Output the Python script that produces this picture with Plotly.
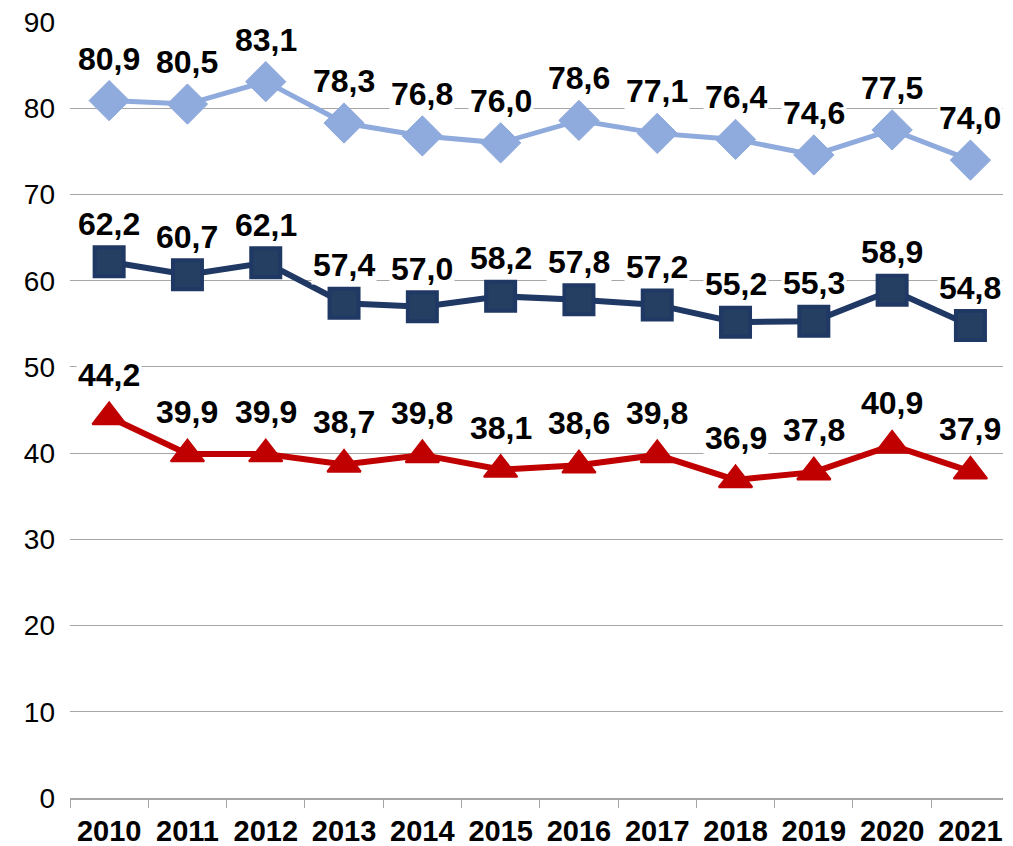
import plotly.graph_objects as go

years = ["2010", "2011", "2012", "2013", "2014", "2015", "2016", "2017", "2018", "2019", "2020", "2021"]
series_top = [80.9, 80.5, 83.1, 78.3, 76.8, 76.0, 78.6, 77.1, 76.4, 74.6, 77.5, 74.0]
series_mid = [62.2, 60.7, 62.1, 57.4, 57.0, 58.2, 57.8, 57.2, 55.2, 55.3, 58.9, 54.8]
series_low = [44.2, 39.9, 39.9, 38.7, 39.8, 38.1, 38.6, 39.8, 36.9, 37.8, 40.9, 37.9]
y_ticks = [0, 10, 20, 30, 40, 50, 60, 70, 80, 90]

FONT = "Liberation Sans, Arial, sans-serif"

fig = go.Figure()

specs = [
    (series_low, "#C00000", "triangle-up", 29, "#C00000", 2, 6, 42),
    (series_mid, "#203864", "square", 29, "#1F3864", 4, 6, 38),
    (series_top, "#8FAADC", "diamond", 31, "#8FAADC", 1, 5, 42),
]

for vals, color, symbol, msize, mline, mlw, lw, shift in specs:
    fill = "#253F62" if symbol == "square" else color
    fig.add_trace(go.Scatter(
        x=years, y=vals, mode="lines+markers",
        line=dict(color=color, width=lw),
        marker=dict(symbol=symbol, size=msize, color=fill,
                    line=dict(color=mline, width=mlw)),
        showlegend=False, hoverinfo="skip",
    ))
    for i, yv in enumerate(vals):
        fig.add_annotation(
            x=i, y=yv, text="<b>" + f"{yv:.1f}".replace(".", ",") + "</b>",
            showarrow=False, yshift=shift, yanchor="middle",
            bgcolor="white", borderpad=1,
            font=dict(family=FONT, size=32, color="black"),
        )

fig.update_layout(
    width=1013, height=846,
    margin=dict(l=62, r=18, t=14, b=56),
    paper_bgcolor="white", plot_bgcolor="white",
    font=dict(family=FONT, color="black"),
)
fig.update_xaxes(
    type="category", range=[-0.5, 11.416], automargin=False,
    showgrid=False, showline=True, linecolor="#A6A6A6", linewidth=1.5,
    ticks="outside", tickson="boundaries", ticklen=8, tickcolor="#A6A6A6",
    tickangle=0, ticklabelstandoff=6, ticklabeloverflow="allow",
    tickfont=dict(family=FONT, size=29, color="black", weight="bold"),
)
fig.update_yaxes(
    range=[0, 90.02], tickvals=y_ticks, showgrid=True, gridcolor="#A6A6A6", gridwidth=1,
    zeroline=False, showline=False, ticks="", ticklabelstandoff=14, automargin=False,
    ticklabeloverflow="allow",
    tickfont=dict(family=FONT, size=28, color="black"),
)

fig.write_html("out.html")
